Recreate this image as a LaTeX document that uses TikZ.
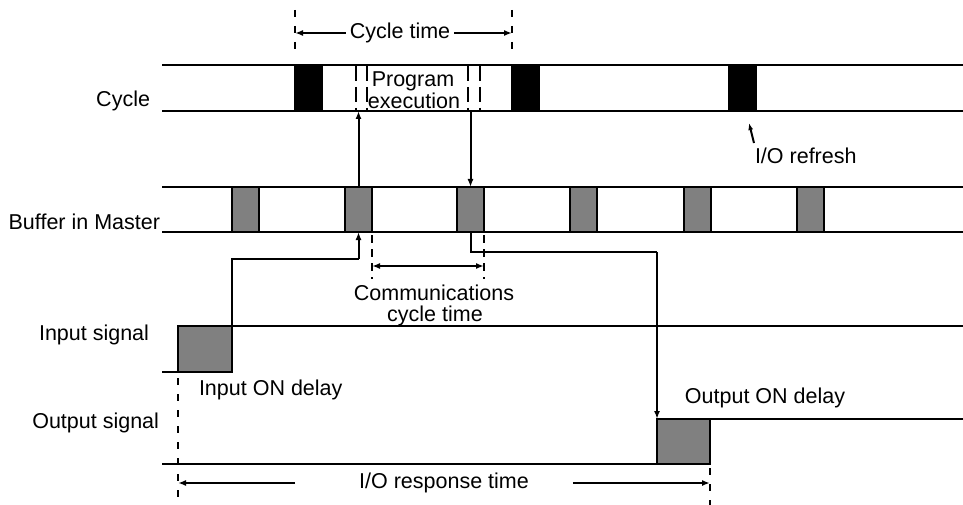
\documentclass[tikz,border=0pt]{standalone}
\usepackage{fontspec}
\setmainfont{Liberation Sans}
\usetikzlibrary{arrows.meta}
\definecolor{gray50}{RGB}{128,128,128}
\begin{document}
\begin{tikzpicture}[x=1pt,y=-1pt,
  every node/.style={font=\fontsize{21.5}{24}\selectfont, inner sep=0pt, outer sep=0pt},
  ln/.style={line width=2.4pt},
  thin/.style={line width=2pt},
  arr/.style={line width=2pt, -{Latex[length=8pt,width=6pt]}},
  darr/.style={line width=2pt, {Latex[length=8pt,width=6pt]}-{Latex[length=8pt,width=6pt]}},
  dsh/.style={line width=2pt, dash pattern=on 7pt off 9pt},
  pdsh/.style={line width=2pt, dash pattern=on 15pt off 6pt},
  blackblk/.style={draw, line width=1.5pt, fill=black, minimum width=27pt, minimum height=46pt, anchor=north west},
  grayblk/.style={draw, line width=2.4pt, fill=gray50, minimum width=27pt, minimum height=45pt, anchor=north west},
  sigblk/.style={draw, line width=2.4pt, fill=gray50, anchor=north west}
]
\useasboundingbox (0,0) rectangle (963,505);

% ---- Cycle band
\coordinate (cycTL) at (162,65);
\coordinate (cycTR) at (963,65);
\coordinate (cycBL) at (162,111);
\coordinate (cycBR) at (963,111);
\draw[ln] (cycTL) -- (cycTR);
\draw[ln] (cycBL) -- (cycBR);
\node[blackblk] (c1) at (295,65) {};
\node[blackblk] (c2) at (512,65) {};
\node[blackblk] (c3) at (729,65) {};
\node[anchor=east] (lcycle) at (150,101) {Cycle};

% program execution dashed marks
\foreach \x in {356,367,468,480}
  \draw[pdsh] (\x,66) -- (\x,111);
\node[anchor=base] (prog) at (413,87) {Program};
\node[anchor=base] (exec) at (414,109) {execution};

% cycle time
\coordinate (ct1a) at (295,10);
\coordinate (ct1b) at (295,56);
\coordinate (ct2a) at (512,10);
\coordinate (ct2b) at (512,56);
\draw[dsh] (ct1a) -- (ct1b);
\draw[dsh] (ct2a) -- (ct2b);
\node (ctime) at (400,33) {Cycle time};
\coordinate (ctL) at (295,33);
\coordinate (ctR) at (512,33);
\draw[arr] (ctime.west) ++(-4,0) -- (ctL);
\draw[arr] (ctime.east) ++(4,0) -- (ctR);

% I/O refresh
\node[anchor=west] (iorefresh) at (755,156) {I/O refresh};
\coordinate (iorT) at (749,123);
\coordinate (iorS) at (754,143);
\draw[arr, -{Latex[length=7pt,width=5pt]}] (iorS) -- (iorT);

% ---- Buffer band
\draw[ln] (162,187) -- (963,187);
\draw[ln] (162,232) -- (963,232);
\node[grayblk] (b1) at (232,187) {};
\node[grayblk] (b2) at (345,187) {};
\node[grayblk] (b3) at (457,187) {};
\node[grayblk] (b4) at (570,187) {};
\node[grayblk] (b5) at (684,187) {};
\node[grayblk] (b6) at (797,187) {};
\node[anchor=east] (lbuf) at (160,222) {Buffer in Master};

% arrows between buffer and cycle
\draw[arr] (b2.north) -- (b2.north |- cycBL);
\draw[arr] (b3.north |- cycBL) -- (b3.north);

% communications cycle time
\draw[dsh, dash pattern=on 8pt off 6pt] (b2.south east) ++(0,3) -- ++(0,44);
\draw[dsh, dash pattern=on 8pt off 6pt] (b3.south east) ++(0,3) -- ++(0,44);
\coordinate (ccL) at (372,266);
\coordinate (ccR) at (484,266);
\draw[darr] (ccL) -- (ccR);
\node (comm1) at (434,293) {Communications};
\node (comm2) at (435,316) {cycle time};

% ---- Input signal
\node[sigblk, minimum width=54pt, minimum height=46pt] (inbox) at (178,326) {};
\draw[ln] (162,372) -- (inbox.south west);
\draw[ln] (inbox.north east) -- (963,326);
\node[anchor=east] (lin) at (149,335) {Input signal};
\node[anchor=west] (indelay) at (199,390) {Input ON delay};
\coordinate (inK) at (232,259);
\draw[thin] (inbox.north east) -- (inK) -- (b2.south |- inK);
\draw[arr] (b2.south |- inK) -- (b2.south);

% ---- Output signal
\node[sigblk, minimum width=53pt, minimum height=45pt] (outbox) at (657,419) {};
\draw[ln] (162,464) -- (outbox.south west);
\draw[ln] (outbox.north east) -- (963,419);
\node[anchor=east] (lout) at (159,423) {Output signal};
\node (outdelay) at (765,398) {Output ON delay};
\coordinate (outK) at (b3.south |- 0,252);
\draw[thin] (b3.south) -- (outK) -- (outbox.north west |- outK);
\draw[arr] (outbox.north west |- outK) -- (outbox.north west);

% ---- I/O response time
\draw[dsh] (178,378) -- (178,505);
\draw[dsh] (710,468) -- (710,505);
\node (resp) at (444,483) {I/O response time};
\coordinate (rL) at (178,483);
\coordinate (rR) at (710,483);
\draw[arr] (resp.west) ++(-64,0) -- (rL);
\draw[arr] (resp.east) ++(44,0) -- (rR);
\end{tikzpicture}
\end{document}
